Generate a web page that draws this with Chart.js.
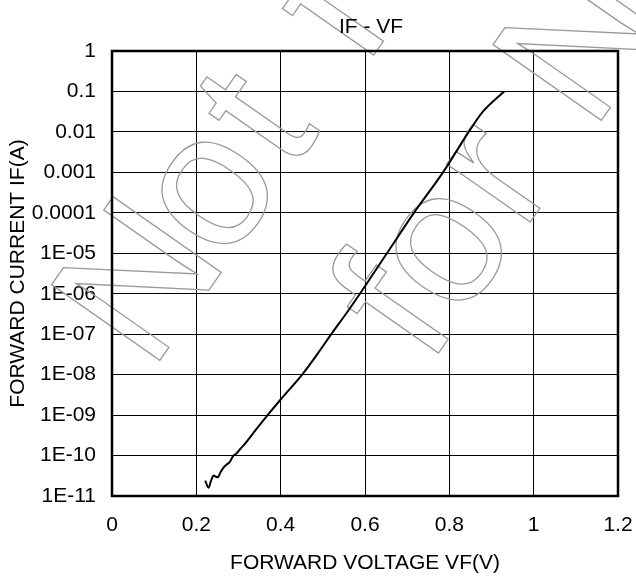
<!DOCTYPE html>
<html>
<head>
<meta charset="utf-8">
<script src="https://cdn.jsdelivr.net/npm/chart.js@4.4.0/dist/chart.umd.min.js"></script>
<style>
    html, body { margin: 0; padding: 0; background: #fff; }
    #wrap { position: relative; width: 636px; height: 579px; }
</style>
</head>
<body>
<div id="wrap"><canvas id="ifvf"></canvas></div>
<script>
// Curve: forward voltage (V) against forward current (A)
const vfValues = [0.221, 0.229, 0.235, 0.241, 0.246, 0.251, 0.258, 0.265, 0.272, 0.279,
    0.288, 0.294, 0.304, 0.316, 0.340, 0.369, 0.401, 0.451, 0.485, 0.520,
    0.555, 0.588, 0.652, 0.716, 0.785, 0.846, 0.880, 0.930];
const ifValues = [2.4e-11, 1.6e-11, 2.4e-11, 3.2e-11, 3.0e-11, 2.9e-11, 4.0e-11, 5.1e-11, 6.0e-11, 6.9e-11,
    1e-10, 1.1e-10, 1.45e-10, 2.0e-10, 4.2e-10, 1e-9, 2.5e-9, 1e-8, 3.0e-8, 1e-7,
    3.2e-7, 1e-6, 1e-5, 1e-4, 1e-3, 1e-2, 3.2e-2, 0.1];

// Axis ticks
const xTickValues = [0, 0.2, 0.4, 0.6, 0.8, 1, 1.2];
const xTickLabels = ['0', '0.2', '0.4', '0.6', '0.8', '1', '1.2'];
const yTickValues = [1, 0.1, 0.01, 0.001, 0.0001, 1e-5, 1e-6, 1e-7, 1e-8, 1e-9, 1e-10, 1e-11];
const yTickLabels = ['1', '0.1', '0.01', '0.001', '0.0001', '1E-05', '1E-06', '1E-07', '1E-08', '1E-09', '1E-10', '1E-11'];

const chartTitle = 'IF - VF';
const watermarkLines = ['Not for', 'for N'];

const baseFont = { family: '"Liberation Sans", Arial, sans-serif', size: 21 };

// Outlined diagonal watermark, placed glyph by glyph along two slanted baselines
function drawWatermark(ctx) {
    const angle = -55 * Math.PI / 180;
    const along = [Math.cos(angle), Math.sin(angle)];
    const across = [-Math.sin(angle), Math.cos(angle)];
    const origin = [151, 369.5];
    // centre of each glyph along its baseline, and the baseline offset of each line
    const glyphCentres = [[66, 181, 267, null, 395], [188, 269, 357, null, 516]];
    const lineOffsets = [2, 226];

    ctx.save();
    ctx.font = '192px "Liberation Sans", Arial, sans-serif';
    ctx.strokeStyle = '#9a9a9a';
    ctx.lineWidth = 1.3;
    ctx.textAlign = 'center';
    ctx.textBaseline = 'alphabetic';
    watermarkLines.forEach((line, li) => {
        [...line].forEach((ch, ci) => {
            const b = glyphCentres[li][ci];
            if (ch === ' ' || b == null) return;
            const d = lineOffsets[li];
            ctx.save();
            ctx.translate(origin[0] + b * along[0] + d * across[0],
                origin[1] + b * along[1] + d * across[1]);
            ctx.rotate(angle);
            ctx.strokeText(ch, 0, 0);
            ctx.restore();
        });
    });
    ctx.restore();
}

// Title, outer frame and watermark
const decorations = {
    id: 'decorations',
    beforeDatasetsDraw(chart) {
        drawWatermark(chart.ctx);
    },
    afterDraw(chart) {
        const { ctx, chartArea } = chart;
        ctx.save();
        ctx.strokeStyle = '#000';
        ctx.lineWidth = 2.5;
        ctx.strokeRect(chartArea.left, chartArea.top,
            chartArea.right - chartArea.left, chartArea.bottom - chartArea.top);
        ctx.fillStyle = '#000';
        ctx.font = '21px "Liberation Sans", Arial, sans-serif';
        ctx.textAlign = 'center';
        ctx.textBaseline = 'alphabetic';
        ctx.fillText(chartTitle, (chartArea.left + chartArea.right) / 2 + 6, 33);
        ctx.restore();
    }
};

new Chart(document.getElementById('ifvf'), {
    type: 'scatter',
    data: {
        datasets: [{
            label: 'IF',
            data: vfValues.map((v, i) => ({ x: v, y: ifValues[i] })),
            showLine: true,
            borderColor: '#000',
            borderWidth: 2,
            pointRadius: 0,
            cubicInterpolationMode: 'monotone'
        }]
    },
    options: {
        responsive: true,
        maintainAspectRatio: false,
        animation: false,
        layout: { padding: { top: 51, right: 18, left: 0, bottom: 0 } },
        plugins: {
            legend: { display: false },
            tooltip: { enabled: false }
        },
        scales: {
            x: {
                type: 'linear',
                min: 0,
                max: 1.2,
                afterBuildTicks: s => { s.ticks = xTickValues.map(v => ({ value: v })); },
                afterFit: s => {
                    s.height = 83;
                    s.paddingLeft = 0;
                    s.paddingRight = 0;
                },
                grid: { color: '#000', lineWidth: 1, drawTicks: false },
                border: { display: false },
                ticks: {
                    autoSkip: false,
                    maxRotation: 0,
                    padding: 17,
                    color: '#000',
                    font: baseFont,
                    callback: v => xTickLabels[xTickValues.indexOf(v)]
                },
                title: {
                    display: true,
                    text: 'FORWARD VOLTAGE VF(V)',
                    color: '#000',
                    font: baseFont,
                    padding: { top: 3, bottom: 3 }
                }
            },
            y: {
                type: 'logarithmic',
                min: 1e-11,
                max: 1,
                afterBuildTicks: s => { s.ticks = yTickValues.map(v => ({ value: v })); },
                afterFit: s => { s.width = 112; },
                grid: { color: '#000', lineWidth: 1, drawTicks: false },
                border: { display: false },
                ticks: {
                    autoSkip: false,
                    padding: 16,
                    color: '#000',
                    font: baseFont,
                    callback: v => yTickLabels[yTickValues.indexOf(v)]
                },
                title: {
                    display: true,
                    text: 'FORWARD CURRENT IF(A)',
                    color: '#000',
                    font: baseFont,
                    padding: { top: 6, bottom: 6 }
                }
            }
        }
    },
    plugins: [decorations]
});
</script>
</body>
</html>
